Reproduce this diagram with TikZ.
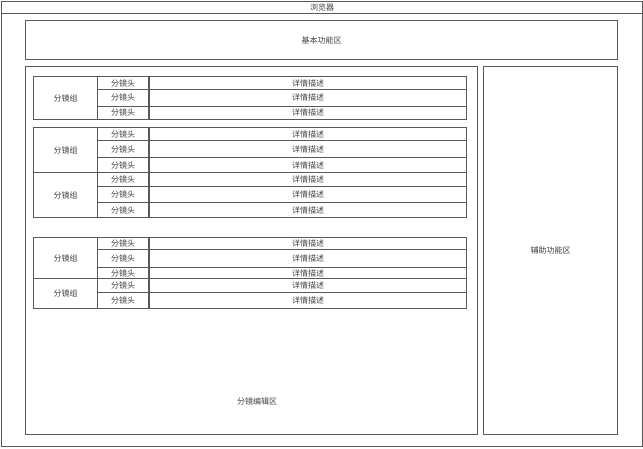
\documentclass[tikz,border=0pt]{standalone}
\usepackage{fontspec}
\newfontfamily\cjk{Noto Sans CJK SC}
\begin{document}
\begin{tikzpicture}[x=1pt,y=-1pt]
\tikzset{
  box/.style={draw=black!65, line width=1.3pt, inner sep=0pt, anchor=north west,
    font=\cjk\fontsize{8}{8}\selectfont, text=black!75},
  lbl/.style={inner sep=0pt, font=\cjk\fontsize{8}{8}\selectfont, text=black!75}
}
\useasboundingbox (0,0) rectangle (643,448);
\fill[white] (0,0) rectangle (643,448);
% browser
\node[box, minimum width=641pt, minimum height=445pt] (browser) at (1,1) {};
\node[box, minimum width=641pt, minimum height=12pt] (title) at (1,1) {浏览器};
% basic area
\node[box, minimum width=592pt, minimum height=39pt] (basic) at (25,20) {基本功能区};
% edit area
\node[box, minimum width=452pt, minimum height=368pt] (edit) at (25,66) {};
\node[lbl] (editlbl) at (257,401) {分镜编辑区};
% aux area
\node[box, minimum width=134pt, minimum height=368pt] (aux) at (483,66) {辅助功能区};
% rows
\newcommand\shotrow[3]{%
  \node[box, minimum width=51pt, minimum height={#3-#2}] (#1a) at (97,#2) {分镜头};
  \node[box, minimum width=317pt, minimum height={#3-#2}] (#1b) at (149,#2) {详情描述};}
\newcommand\shotgroup[3]{%
  \node[box, minimum width=64pt, minimum height={#3-#2}] (#1) at (33,#2) {分镜组};}
% group 1
\shotgroup{ga}{76}{119}
\shotrow{ra}{76}{89}
\shotrow{rb}{89}{105.5}
\shotrow{rc}{105.5}{119}
% group 2
\shotgroup{gb}{127}{172}
\shotrow{rd}{127}{140}
\shotrow{re}{140}{157}
\shotrow{rf}{157}{172}
% group 3
\shotgroup{gc}{172}{217}
\shotrow{rg}{172}{186}
\shotrow{rh}{186}{202}
\shotrow{ri}{202}{217}
% group 4
\shotgroup{gd}{237}{278}
\shotrow{rj}{237}{249}
\shotrow{rk}{249}{267}
\shotrow{rl}{267}{278}
% group 5
\shotgroup{ge}{278}{308}
\shotrow{rm}{278}{292}
\shotrow{rn}{292}{308}
\end{tikzpicture}
\end{document}
